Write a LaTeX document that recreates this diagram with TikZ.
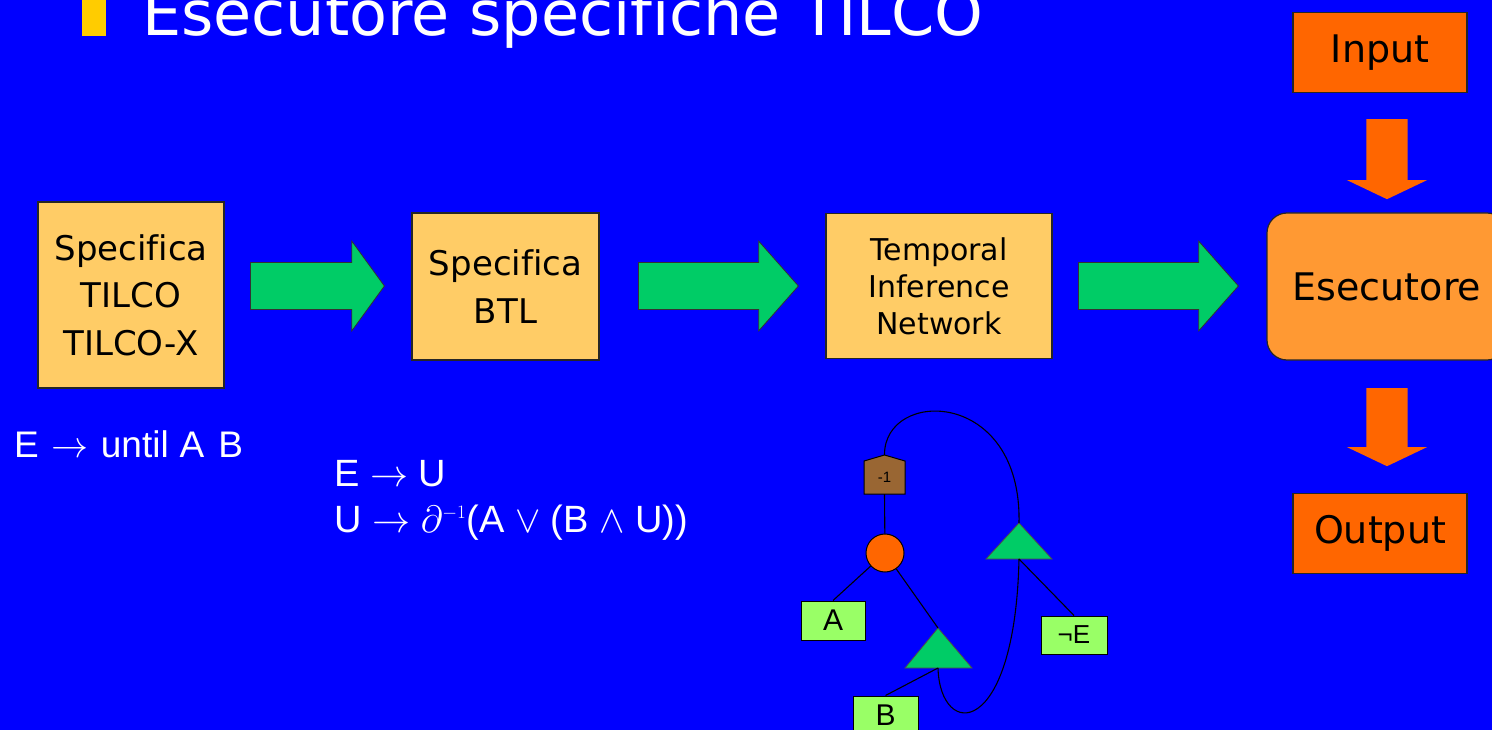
\RequirePackage{fix-cm}
\documentclass[tikz,border=0pt]{standalone}
\usepackage{fontspec}
\setmainfont{Liberation Sans}
\newfontfamily\verdfont{DejaVu Sans}[Ligatures=NoCommon]
\usetikzlibrary{shapes.arrows}

\definecolor{slideblue}{HTML}{0000FF}
\definecolor{specfill}{HTML}{FFCC66}
\definecolor{flowgreen}{HTML}{00CC66}
\definecolor{execfill}{HTML}{FF9933}
\definecolor{iofill}{HTML}{FF6600}
\definecolor{bulletyellow}{HTML}{FFCC00}
\definecolor{invbrown}{HTML}{996633}
\definecolor{leafgreen}{HTML}{99FF66}

\begin{document}
\begin{tikzpicture}[x=1pt,y=-1pt,
  specbox/.style={draw=black!85,line width=1.2pt,fill=specfill,align=center,
    inner sep=0pt,text=black},
  bigtext/.style={font={\verdfont\fontsize{34}{47.5}\selectfont}},
  iobox/.style={draw=black!85,line width=1.2pt,fill=iofill,inner sep=0pt,
    minimum width=174pt,minimum height=80pt,font={\verdfont\fontsize{38}{44}\selectfont}},
  garrow/.style={single arrow,draw=black!80,line width=0.8pt,fill=flowgreen,
    inner xsep=0pt,inner ysep=23pt,single arrow head extend=21.5pt,anchor=tail},
  oarrow/.style={single arrow,fill=iofill,inner xsep=0pt,inner ysep=20.5pt,
    single arrow head extend=19.5pt,single arrow tip angle=129,
    anchor=tail,rotate=-90},
  formula/.style={text=white,inner sep=0pt,anchor=base west},
  leaf/.style={draw=black,line width=1pt,fill=leafgreen,inner sep=0pt,
    minimum height=39pt},
  tri/.style={draw=black!70,line width=0.8pt,fill=flowgreen},
  link/.style={black,line width=1.1pt}]
  % Slide background
  \useasboundingbox (0,0) rectangle (1492,730);
  \clip (0,0) rectangle (1492,730);
  \fill[slideblue] (0,0) rectangle (1492,730);
  % Title
  \fill[bulletyellow] (82,-5) rectangle (106,36);
  \node[text=white,inner sep=0pt,anchor=base west,
    font={\verdfont\fontsize{62}{70}\selectfont}] (title) at (142,36)
    {Esecutore specifiche TILCO};
  % Translation chain
  \node[specbox,bigtext,minimum width=186pt,minimum height=186pt] (tilco)
    at (131,295) {Specifica\\TILCO\\TILCO-X};
  \node[specbox,bigtext,minimum width=187pt,minimum height=147pt] (btl)
    at (505.5,286.5) {Specifica\\BTL};
  \node[specbox,minimum width=226pt,minimum height=145pt,
    font={\verdfont\fontsize{30}{37}\selectfont}] (tin)
    at (939,286) {Temporal\\Inference\\Network};
  \node[draw=black!85,line width=1.2pt,fill=execfill,rounded corners=20pt,
    minimum width=240pt,minimum height=147pt,inner sep=0pt,
    font={\verdfont\fontsize{38}{44}\selectfont}] (exec) at (1387,286.5) {Esecutore};
  \node[garrow,minimum height=134pt,single arrow tip angle=108] (g1) at (250,286) {};
  \node[garrow,minimum height=160pt,single arrow tip angle=97] (g2) at (638,286) {};
  \node[garrow,minimum height=160pt,single arrow tip angle=97] (g3) at (1078,286) {};
  % Input / Output
  \node[iobox] (inp) at (1380,52.5) {Input};
  \node[iobox] (outp) at (1380,533.5) {Output};
  \node[oarrow,minimum height=80pt] (din) at (1387,119) {};
  \node[oarrow,minimum height=78pt] (dout) at (1387,388) {};
  % Grammar rules
  \node[formula,font=\fontsize{37}{42}\selectfont] (rule) at (14,457)
    {E\hspace{13pt}$\rightarrow$\hspace{12pt}until\hspace{11pt}A\hspace{14pt}B};
  \node[formula,font=\fontsize{38}{46}\selectfont] (eu) at (334,486)
    {E $\rightarrow$ U};
  \node[formula,font=\fontsize{38}{46}\selectfont] (ud) at (334,532)
    {U $\rightarrow$ $\partial^{\scriptscriptstyle -1}$(A $\vee$ (B $\wedge$ U))};
  % Inference network
  \filldraw[draw=black,line width=1pt,fill=invbrown]
    (864,494) -- (864,461) -- (884.5,455) -- (905,461) -- (905,494) -- cycle;
  \node[inner sep=0pt,minimum width=41pt,minimum height=33pt,
    font=\fontsize{15}{18}\selectfont] (inv) at (884.5,477.5) {-1};
  \coordinate (invtop) at (884.5,455);
  \node[circle,draw=black,line width=1pt,fill=iofill,minimum size=38pt,
    inner sep=0pt] (orr) at (885,553) {};
  \node[leaf,minimum width=64pt,font=\fontsize{30}{34}\selectfont] (la) at (833,620.5) {A};
  \node[leaf,minimum width=65pt,font=\fontsize{30}{34}\selectfont] (lb) at (885.5,715.5) {B};
  \node[leaf,minimum width=66pt,minimum height=38pt,
    font=\fontsize{26}{30}\selectfont] (lne) at (1074,635) {¬E};
  \coordinate (tbtop) at (938,628);
  \coordinate (tbbase) at (938,668);
  \coordinate (tutop) at (1019,523);
  \coordinate (tubase) at (1019,559);
  \filldraw[tri] (tbtop) -- (905,668) -- (972,668) -- cycle;
  \filldraw[tri] (tutop) -- (986,559) -- (1052,559) -- cycle;
  \draw[link] (inv.south) -- (orr);
  \draw[link] (orr) -- (la.north);
  \draw[link] (orr) -- (tbtop);
  \draw[link] (tbbase) -- (lb.north);
  \draw[link] (tubase) -- (lne.north);
  \draw[link] (invtop) .. controls (884,388) and (1022,388) .. (tutop);
  \draw[link] (tbbase) .. controls (940,740) and (1015,740) .. (tubase);
\end{tikzpicture}
\end{document}
